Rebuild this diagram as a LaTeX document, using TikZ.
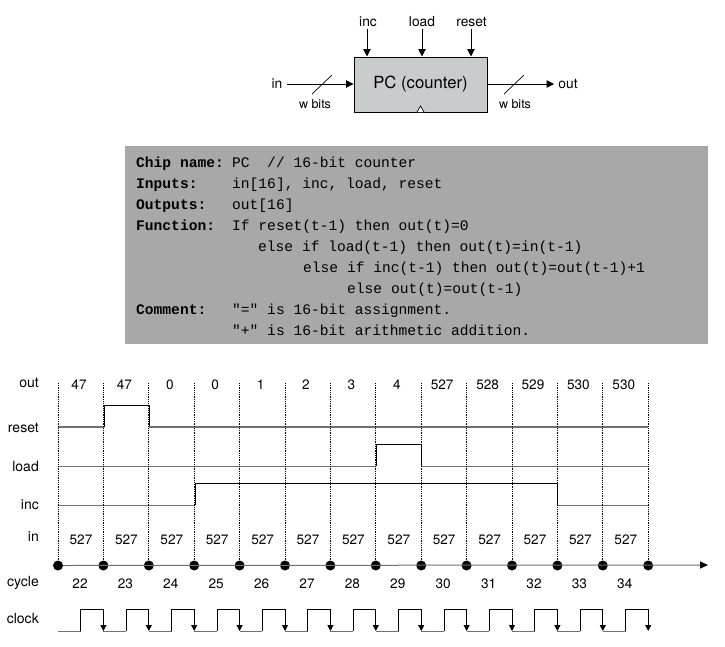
\documentclass[tikz,border=0pt]{standalone}
\usepackage{fontspec}
\setmainfont{TeX Gyre Heros}
\setmonofont{Liberation Mono}
\usetikzlibrary{arrows.meta}
\definecolor{boxgray}{HTML}{C8CCCC}
\definecolor{panelgray}{HTML}{A8A8A8}
\definecolor{lowgray}{HTML}{707070}
\tikzset{
    arrowline/.style = {line width = 1, -{Triangle[length=7.5pt,width=7.5pt]}},
    toplabel/.style = {font = \fontsize{13.8}{16}\selectfont, inner sep = 0, anchor = base},
    bitslabel/.style = {font = \fontsize{12.5}{15}\selectfont, inner sep = 0, anchor = base},
    rowlabel/.style = {font = \fontsize{14}{16}\selectfont, inner sep = 0, anchor = base east},
    valuelabel/.style = {font = \fontsize{13.6}{16}\selectfont, inner sep = 0, anchor = base},
    codeline/.style = {font = \fontsize{14.6}{16}\ttfamily, inner sep = 0, anchor = base west},
    codehead/.style = {codeline, font = \fontsize{14.6}{16}\ttfamily\bfseries},
    siglow/.style = {color = lowgray, line width = 1},
    sigthick/.style = {color = lowgray, line width = 1.5},
    sighigh/.style = {color = black, line width = 0.8},
    tickline/.style = {densely dotted, line width = 0.8},
    cycledot/.style = {circle, fill = black, minimum size = 10pt, inner sep = 0},
}
\begin{document}
\begin{tikzpicture}[x=1pt, y=-1pt]
        \useasboundingbox (0,0) rectangle (725,646);

        % chip symbol
        \node[draw, line width = 1, fill = boxgray, minimum width = 133pt, minimum height = 55pt, inner sep = 0, font = \fontsize{16.7}{18}\selectfont] (pc) at (420.5,84.5) {PC (counter)};
        \draw[line width = 0.7, fill = white] (417,112) -- (420.5,106) -- (424,112);
        \node[toplabel] (incname) at (368,26) {inc};
        \node[toplabel] (loadname) at (422,26) {load};
        \node[toplabel] (resetname) at (471.5,26) {reset};
        \draw[arrowline] (incname.south) ++(-1,3) coordinate (incstart) -- (incstart |- pc.north);
        \draw[arrowline] (loadname.south) ++(0,3) coordinate (loadstart) -- (loadstart |- pc.north);
        \draw[arrowline] (resetname.south) ++(-0.5,3) coordinate (resetstart) -- (resetstart |- pc.north);
        \node[toplabel] (inname) at (277,88) {in};
        \node[toplabel] (outname) at (568,88) {out};
        \coordinate (instart) at (287,84);
        \coordinate (outend) at (554,84);
        \draw[arrowline] (instart) -- (instart -| pc.west);
        \draw[arrowline] (outend -| pc.east) -- (outend);
        \draw[line width = 0.7] (312,94) -- (332,75);
        \draw[line width = 0.7] (504,94) -- (524,75);
        \node[bitslabel] (inbits) at (315,108) {w bits};
        \node[bitslabel] (outbits) at (515,108) {w bits};

        % api panel
        \path[fill = panelgray] (125,146) rectangle (708,344);
        \node[codehead] (chiphead) at (136,167) {Chip name:};
        \node[codeline] (chipline) at (232,167) {PC~~//~16-bit~counter};
        \node[codehead] (inputshead) at (136,188) {Inputs:};
        \node[codeline] (inputsline) at (232,188) {in[16],~inc,~load,~reset};
        \node[codehead] (outputshead) at (136,209) {Outputs:};
        \node[codeline] (outputsline) at (232,209) {out[16]};
        \node[codehead] (funchead) at (136,230) {Function:};
        \node[codeline] (funcline) at (232,230) {If~reset(t-1)~then~out(t)=0};
        \node[codeline] (loadline) at (258,251) {else~if~load(t-1)~then~out(t)=in(t-1)};
        \node[codeline] (incline) at (303,272) {else~if~inc(t-1)~then~out(t)=out(t-1)+1};
        \node[codeline] (elseline) at (347,293) {else~out(t)=out(t-1)};
        \node[codehead] (commenthead) at (136,314) {Comment:};
        \node[codeline] (commentline) at (232,314) {"="~is~16-bit~assignment.};
        \node[codeline] (addline) at (232,335) {"+"~is~16-bit~arithmetic~addition.};

        % row names
        \node[rowlabel] (outrow) at (39,387) {out};
        \node[rowlabel] (resetrow) at (39,432) {reset};
        \node[rowlabel] (loadrow) at (39,471) {load};
        \node[rowlabel] (incrow) at (39,509) {inc};
        \node[rowlabel] (inrow) at (39,541) {in};
        \node[rowlabel] (cyclerow) at (39,586) {cycle};
        \node[rowlabel] (clockrow) at (39,623) {clock};

        % signals
        \draw[sigthick] (58,427) -- (104,427);
        \draw[sighigh] (104,427) -- (104,405) -- (149,405) -- (149,427);
        \draw[sigthick] (149,427) -- (648,427);
        \draw[siglow] (58,466) -- (376,466);
        \draw[sighigh] (376,466) -- (376,444) -- (421,444) -- (421,466);
        \draw[siglow] (421,466) -- (648,466);
        \draw[siglow] (58,505) -- (195,505);
        \draw[sighigh] (195,505) -- (195,483) -- (557,483) -- (557,505);
        \draw[siglow] (557,505) -- (648,505);

        % time axis
        \coordinate (axisend) at (708,565);
        \foreach \i [evaluate=\i as \x using 58+45.4*\i] in {0,...,13} {
            \coordinate (top\i) at (\x,383);
            \node[cycledot] (dot\i) at (\x,565.5) {};
            \draw[tickline] (top\i) -- (dot\i);
        }
        \draw[color = lowgray, line width = 1, -{Triangle[length=8pt,width=7pt,color=black]}] (dot0) -- (axisend);
        \foreach \val [count=\i from 0, evaluate=\i as \x using 79+45.4*\i] in {47,47,0,0,1,2,3,4,527,528,529,530,530} {
            \node[valuelabel] (out\i) at (\x,389) {\val};
        }
        \foreach \i [evaluate=\i as \x using 81+45.4*\i] in {0,...,12} {
            \node[valuelabel] (in\i) at (\x,544) {527};
        }
        \foreach \val [count=\i from 0, evaluate=\i as \x using 80+45.4*\i] in {22,...,34} {
            \node[valuelabel] (cycle\i) at (\x,588) {\val};
        }

        % clock
        \foreach \i [evaluate=\i as \x using 58+45.4*\i, evaluate=\i as \m using 58+45.4*\i+22.7, evaluate=\i as \e using 58+45.4*(\i+1)] in {0,...,12} {
            \draw[siglow] (\x,631) -- (\m,631);
            \draw[sighigh] (\m,631) -- (\m,609) -- (\e,609);
            \draw[sighigh, -{Triangle[length=6pt,width=6pt]}] (\e,609) -- (\e,631);
        }
    \end{tikzpicture}
\end{document}
